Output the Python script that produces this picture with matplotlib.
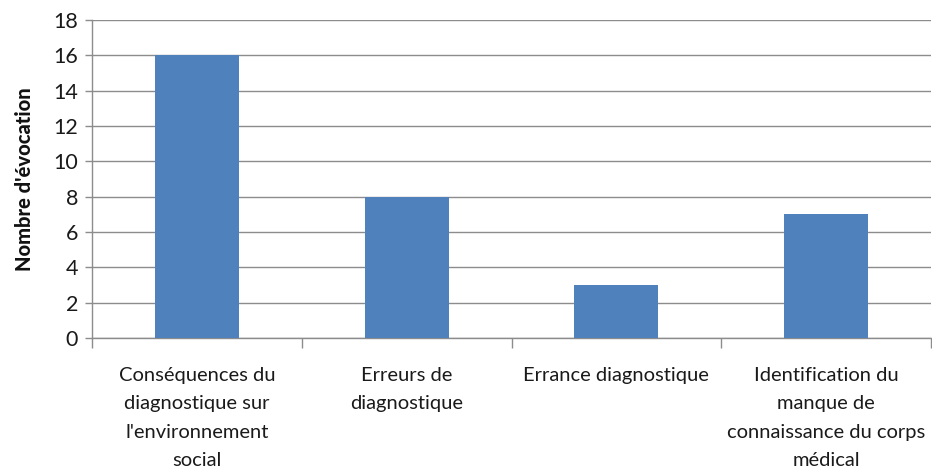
import numpy as np
import matplotlib.pyplot as plt

# ---------------- Data ----------------
categories = [
    "Conséquences du\ndiagnostique sur\nl'environnement\nsocial",
    "Erreurs de\ndiagnostique",
    "Errance diagnostique",
    "Identification du\nmanque de\nconnaissance du corps\nmédical",
]
values = [16, 8, 3, 7]
yticks = list(range(0, 19, 2))

plt.rcParams["font.family"] = ["Lato", "DejaVu Sans"]

fig = plt.figure(figsize=(9.32, 4.68), dpi=100)
ax = fig.add_axes([92 / 932, 130 / 468, 839 / 932, 318 / 468])

x = np.arange(len(categories))
ax.bar(x, values, width=0.4, color="#4F81BD", zorder=3)

ax.set_xlim(-0.5, len(categories) - 0.5)
ax.set_ylim(0, 18)
ax.set_yticks(yticks)
ax.yaxis.grid(True, color="#8C8C8C", linewidth=1.0, zorder=0)

ax.set_xticks(x)
ax.set_xticklabels(categories, fontsize=14.5, linespacing=1.8, color="#1A1A1A")
ax.set_xticks(np.arange(-0.5, len(categories)), minor=True)
ax.tick_params(axis="x", which="major", length=0, pad=21)
ax.tick_params(axis="x", which="minor", length=7, color="#8C8C8C", width=1.0)
ax.tick_params(axis="y", length=5, color="#8C8C8C", width=1.0, labelsize=15.5,
               labelcolor="#1A1A1A", pad=5)

for side in ["top", "right"]:
    ax.spines[side].set_visible(False)
for side in ["left", "bottom"]:
    ax.spines[side].set_color("#8C8C8C")
    ax.spines[side].set_linewidth(1.0)

ax.set_ylabel("Nombre d'évocation", fontsize=14.5, fontweight="black",
              labelpad=14, color="#111111")

fig.savefig("out.png", dpi=100)
